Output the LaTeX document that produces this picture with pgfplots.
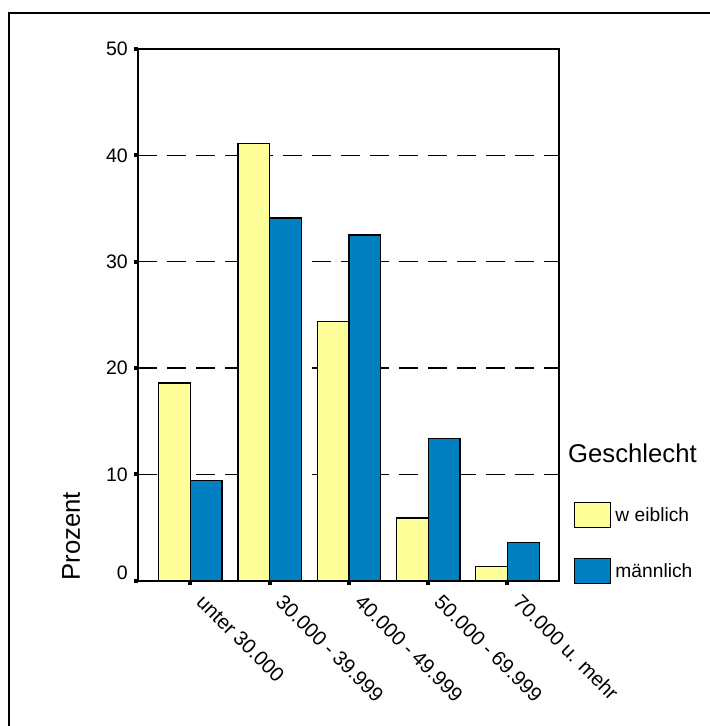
\documentclass[border=0pt]{standalone}
\usepackage{pgfplots}
\pgfplotsset{compat=1.18}
\usepackage{fontspec}
\setmainfont{Liberation Sans}
\definecolor{barY}{HTML}{FFFF99}
\definecolor{barB}{HTML}{0080C0}
\begin{document}
\begin{tikzpicture}
\path[use as bounding box] (0,0) rectangle (710bp,726bp);
\draw[line width=1.3bp] (9bp,0) -- (9bp,713bp) -- (710bp,713bp);
\begin{axis}[
  at={(138bp,145.3bp)}, anchor=south west,
  scale only axis, width=421bp, height=531.7bp,
  xmin=-0.66, xmax=4.65, ymin=0, ymax=50,
  ybar, bar width=0.4,
  xtick={0,1,2,3,4},
  xticklabels={unter 30.000, 30.000 - 39.999, 40.000 - 49.999, 50.000 - 69.999, 70.000 u. mehr},
  ytick={0,10,20,30,40,50},
  yticklabels={\raisebox{8bp}[\height][\depth]{0},10,20,30,40,50},
  tick align=outside, xtick pos=bottom, ytick pos=left,
  major tick length=4bp,
  every tick/.style={black, line width=4bp},
  axis line style={line width=2bp},
  ymajorgrids,
  grid style={black, line width=1.3bp, dash pattern=on 19bp off 10bp},
  yticklabel style={font=\fontsize{19.5bp}{20bp}\selectfont, inner sep=0pt, xshift=-6bp},
  xticklabel style={font=\fontsize{20.3bp}{21bp}\selectfont, rotate=-45, anchor=north west, inner sep=0pt, xshift=16.5bp, yshift=4.8bp},
  every axis y label/.style={at={(axis description cs:-0.1378,0)}, rotate=90, anchor=base west, inner sep=0pt, font=\fontsize{25.7bp}{27bp}\selectfont},
  ylabel={Prozent},
  legend style={at={(axis description cs:1.0356,0.1486)}, anchor=north west, draw=none, fill=none, inner sep=0pt, row sep=30bp,
    font=\fontsize{19.2bp}{20bp}\selectfont, nodes={inner sep=0pt},
    /tikz/every odd column/.style={column sep=4bp}},
  legend cell align=left,
]
\addplot[fill=barY, draw=black, line width=1.3bp, bar shift=-0.2,
  legend image code/.code={\draw[fill=barY, draw=black, line width=1.3bp] (0bp,-12.5bp) rectangle (36bp,12.5bp);}]
  coordinates {(0,18.6) (1,41.1) (2,24.4) (3,5.9) (4,1.35)};
\addlegendentry{w eiblich}
\addplot[fill=barB, draw=black, line width=1.3bp, bar shift=0.2,
  legend image code/.code={\draw[fill=barB, draw=black, line width=1.3bp] (0bp,-12.5bp) rectangle (36bp,12.5bp);}]
  coordinates {(0,9.4) (1,34.1) (2,32.5) (3,13.4) (4,3.6)};
\addlegendentry{männlich}
\end{axis}
\node[anchor=base west, inner sep=0pt, font=\fontsize{25.7bp}{27bp}\selectfont] at (568bp,263bp) {Geschlecht};
\end{tikzpicture}
\end{document}
